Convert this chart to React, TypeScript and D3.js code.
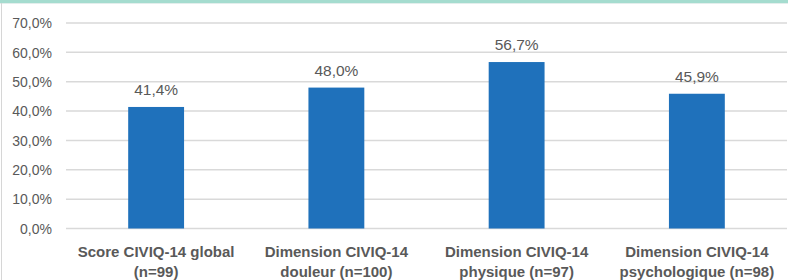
import * as d3 from "d3";

const categories = [
  ["Score CIVIQ-14 global", "(n=99)"],
  ["Dimension CIVIQ-14", "douleur (n=100)"],
  ["Dimension CIVIQ-14", "physique (n=97)"],
  ["Dimension CIVIQ-14", "psychologique (n=98)"],
];
const values = [41.4, 48.0, 56.7, 45.9];
const ticks = [0, 10, 20, 30, 40, 50, 60, 70];

const fmt = (v: number) => v.toFixed(1).replace(".", ",") + "%";

function App() {
  const width = 788;
  const height = 280;
  const margin = { top: 23, right: 1, bottom: 51.5, left: 66 };

  const xScale = d3
    .scaleBand<number>()
    .domain(d3.range(values.length))
    .range([margin.left, width - margin.right])
    .paddingInner(0.69)
    .paddingOuter(0.345);

  const yScale = d3
    .scaleLinear()
    .domain([0, 70])
    .range([height - margin.bottom, margin.top]);

  const textColor = "#595959";
  const font = "'Liberation Sans', Arial, sans-serif";

  return (
    <div>
      <style>{`body{margin:0}`}</style>
      <svg width={width} height={height} style={{ display: "block", background: "#fff" }}>
        <rect x={0} y={0} width={width} height={3} fill="#a5dccf" />
        <rect x={0} y={3} width={width} height={1} fill="#e3eeec" />
        <rect x={1} y={3} width={1} height={height - 3} fill="#d6d6d6" />

        {ticks.map((t) => (
          <g key={t}>
            <line
              x1={margin.left}
              x2={width - margin.right}
              y1={yScale(t)}
              y2={yScale(t)}
              stroke="#d9d9d9"
              strokeWidth={1.5}
            />
            <text
              x={52}
              y={yScale(t)}
              dy="0.38em"
              textAnchor="end"
              fontFamily={font}
              fontSize={14}
              fill={textColor}
            >
              {fmt(t)}
            </text>
          </g>
        ))}

        {values.map((v, i) => (
          <g key={i}>
            <rect
              x={xScale(i)}
              y={yScale(v)}
              width={xScale.bandwidth()}
              height={yScale(0) - yScale(v)}
              fill="#1f71bb"
            />
            <text
              x={(xScale(i) as number) + xScale.bandwidth() / 2}
              y={yScale(v) - 12}
              textAnchor="middle"
              fontFamily={font}
              fontSize={15.5}
              fill={textColor}
            >
              {fmt(v)}
            </text>
            {categories[i].map((line, j) => (
              <text
                key={j}
                x={(xScale(i) as number) + xScale.bandwidth() / 2}
                y={257 + j * 20}
                textAnchor="middle"
                fontFamily={font}
                fontWeight="bold"
                fontSize={15}
                fill={textColor}
              >
                {line}
              </text>
            ))}
          </g>
        ))}
      </svg>
    </div>
  );
}

export default App;
